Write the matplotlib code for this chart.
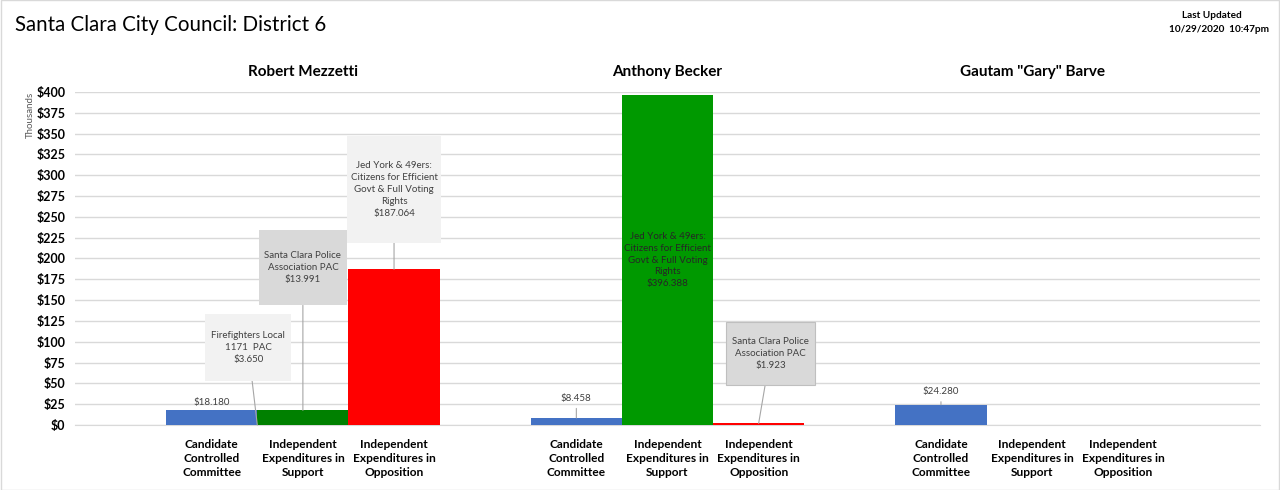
import numpy as np
import matplotlib.pyplot as plt
from matplotlib.path import Path

plt.rcParams['font.family'] = ['Lato', 'DejaVu Sans']

candidates = ["Robert Mezzetti", "Anthony Becker", 'Gautam "Gary" Barve']
categories = ["Candidate\nControlled\nCommittee",
              "Independent\nExpenditures in\nSupport",
              "Independent\nExpenditures in\nOpposition"]

# values in thousands of dollars
committee = [18.180, 8.458, 24.280]
support_a = [3.650, 396.388, 0.0]      # first supporting committee
support_b = [13.991, 0.0, 0.0]         # second supporting committee (stacked)
opposition = [187.064, 1.923, 0.0]

blue = "#4472C4"
greens = ["#008000", "#009900", "#009900"]
red = "#FF0000"
grid_c = "#D9D9D9"


def padded_box(padx, pady):
    def style(x0, y0, width, height, mutation_size):
        px = padx * mutation_size
        py = pady * mutation_size
        x0, y0 = x0 - px, y0 - py
        x1, y1 = x0 + width + 2 * px, y0 + height + 2 * py
        return Path([(x0, y0), (x1, y0), (x1, y1), (x0, y1), (x0, y0)], closed=True)
    return style


fig = plt.figure(figsize=(12.8, 4.9), dpi=100)
ax = fig.add_axes([75 / 1280, 65 / 490, 1185 / 1280, 333 / 490])

# each candidate uses 4 slots: 3 bars + 1 gap
base = np.array([1, 5, 9])
x_c = base + 0.5
x_s = base + 1.5
x_o = base + 2.5

ax.bar(x_c, committee, width=1, color=blue, zorder=3)
ax.bar(x_s, support_a, width=1, color=greens, zorder=3)
ax.bar(x_s, support_b, width=1, bottom=support_a, color=greens, zorder=3)
ax.bar(x_o, opposition, width=1, color=red, zorder=3)

ax.set_xlim(0, 13)
ax.set_ylim(0, 400)
ax.set_yticks(np.arange(0, 401, 25))
ax.set_yticklabels(["$%d" % v for v in np.arange(0, 401, 25)], fontweight="bold", fontsize=9)
ax.yaxis.grid(True, color=grid_c, lw=1, zorder=0)
ax.tick_params(axis="y", length=0, pad=7)
ax.tick_params(axis="x", length=0, pad=10)
for s in ["top", "right", "left"]:
    ax.spines[s].set_visible(False)
ax.spines["bottom"].set_color(grid_c)

xt = np.concatenate([x_c, x_s, x_o])
xl = [categories[0]] * 3 + [categories[1]] * 3 + [categories[2]] * 3
ax.set_xticks(xt)
ax.set_xticklabels(xl, fontweight="bold", fontsize=8.6, linespacing=1.35)

for xc, name in zip(x_s, candidates):
    ax.text(xc, 1.04, name, transform=ax.get_xaxis_transform(), ha="center",
            va="bottom", fontsize=11, fontweight="bold")

fig.text(75 / 1280 - 0.035, 1 - 92 / 490, "Thousands", rotation=90, ha="center", va="top",
         fontsize=7, color="#595959")

fig.text(15 / 1280, 1 - 25 / 490, "Santa Clara City Council: District 6", fontsize=14.8,
         va="center", ha="left")
fig.text(1212 / 1280, 1 - 16 / 490, "Last Updated", fontsize=7.2,
         fontweight="bold", ha="center", va="center")
fig.text(1219 / 1280, 1 - 29 / 490, "10/29/2020  10:47pm", fontsize=7.2,
         fontweight="bold", ha="center", va="center")

# callouts
lbl_kw = dict(fontsize=7, color="#404040", ha="center", va="center", linespacing=1.4, zorder=5)
line_kw = dict(arrowstyle="-", color="#A6A6A6", lw=0.8, shrinkA=0, shrinkB=0)

ax.annotate("Firefighters Local\n1171  PAC\n$%.3f" % support_a[0],
            xy=(x_s[0] - 0.5, 0), xytext=(x_s[0] - 0.6, 93),
            bbox=dict(boxstyle=padded_box(0.6, 1.75), fc="#F2F2F2", ec="none"),
            arrowprops=line_kw, **lbl_kw)
ax.annotate("Santa Clara Police\nAssociation PAC\n$%.3f" % support_b[0],
            xy=(x_s[0], support_a[0] + support_b[0]), xytext=(x_s[0], 189),
            bbox=dict(boxstyle=padded_box(0.6, 2.2), fc="#D9D9D9", ec="none"),
            arrowprops=line_kw, **lbl_kw)
ax.annotate("Jed York & 49ers:\nCitizens for Efficient\nGovt & Full Voting\nRights\n$%.3f" % opposition[0],
            xy=(x_o[0], opposition[0]), xytext=(x_o[0], 283),
            bbox=dict(boxstyle=padded_box(0.35, 2.6), fc="#F2F2F2", ec="none"),
            arrowprops=line_kw, **lbl_kw)
ax.text(x_s[1], support_a[1] / 2,
        "Jed York & 49ers:\nCitizens for Efficient\nGovt & Full Voting\nRights\n$%.3f" % support_a[1],
        fontsize=7, color="#262626", ha="center", va="center", linespacing=1.4, zorder=5)
ax.annotate("Santa Clara Police\nAssociation PAC\n$%.3f" % opposition[1],
            xy=(x_o[1], opposition[1]), xytext=(x_o[1] + 0.13, 86),
            bbox=dict(boxstyle=padded_box(0.6, 1.6), fc="#D9D9D9", ec="#BFBFBF", lw=0.8),
            arrowprops=line_kw, **lbl_kw)

ax.text(x_c[0], committee[0] + 4, "$%.3f" % committee[0], ha="center", va="bottom",
        fontsize=7, color="#404040", zorder=5)
for i, yt in [(1, 32), (2, 40)]:
    ax.annotate("$%.3f" % committee[i], xy=(x_c[i], committee[i]), xytext=(x_c[i], yt),
                arrowprops=dict(arrowstyle="-", color="#A6A6A6", lw=0.8, shrinkA=2, shrinkB=0),
                **lbl_kw)

fig.patches.append(plt.Rectangle((0.001, 0.001), 0.998, 0.998, transform=fig.transFigure,
                                 fill=False, ec="#D9D9D9", lw=1))

fig.savefig("out.png", dpi=100)
